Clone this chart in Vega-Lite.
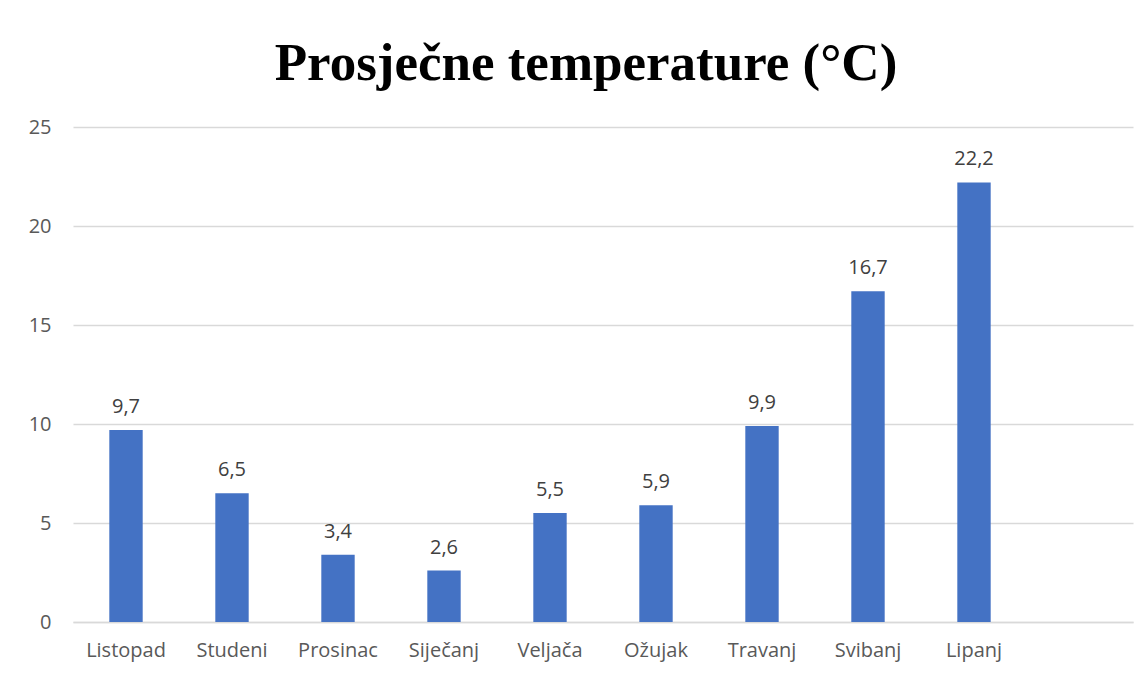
{
  "$schema": "https://vega.github.io/schema/vega-lite/v6.json",
  "width": 1060,
  "height": 495,
  "autosize": {"type": "none"},
  "padding": {"left": 73, "top": 127, "right": 14, "bottom": 55},
  "background": "white",
  "title": {
    "text": "Prosječne temperature (°C)",
    "font": "Liberation Serif",
    "fontSize": 53,
    "fontWeight": "bold",
    "color": "#000000",
    "anchor": "middle",
    "frame": "group",
    "baseline": "alphabetic",
    "offset": -16,
    "dx": -17
  },
  "data": {
    "values": [
      {"mjesec": "Listopad", "temp": 9.7},
      {"mjesec": "Studeni", "temp": 6.5},
      {"mjesec": "Prosinac", "temp": 3.4},
      {"mjesec": "Siječanj", "temp": 2.6},
      {"mjesec": "Veljača", "temp": 5.5},
      {"mjesec": "Ožujak", "temp": 5.9},
      {"mjesec": "Travanj", "temp": 9.9},
      {"mjesec": "Svibanj", "temp": 16.7},
      {"mjesec": "Lipanj", "temp": 22.2}
    ]
  },
  "encoding": {
    "x": {
      "field": "mjesec",
      "type": "nominal",
      "sort": null,
      "scale": {
        "domain": ["Listopad", "Studeni", "Prosinac", "Siječanj", "Veljača", "Ožujak", "Travanj", "Svibanj", "Lipanj", "_prazno"],
        "paddingInner": 0.685,
        "paddingOuter": 0.3425
      },
      "axis": {
        "title": null,
        "labelAngle": 0,
        "labelExpr": "datum.value == '_prazno' ? '' : datum.value",
        "labelFont": "Open Sans",
        "labelFontSize": 20,
        "labelColor": "#595959",
        "labelPadding": 18,
        "ticks": false,
        "domainColor": "#d9d9d9",
        "domainWidth": 1.5,
        "grid": false
      }
    },
    "y": {
      "field": "temp",
      "type": "quantitative",
      "scale": {"domain": [0, 25], "nice": false},
      "axis": {
        "title": null,
        "values": [0, 5, 10, 15, 20, 25],
        "labelFont": "Open Sans",
        "labelFontSize": 20,
        "labelColor": "#595959",
        "labelPadding": 22,
        "ticks": false,
        "domain": false,
        "gridColor": "#d9d9d9",
        "gridWidth": 1.3
      }
    }
  },
  "layer": [
    {"mark": {"type": "bar", "color": "#4472c4"}},
    {
      "mark": {
        "type": "text",
        "font": "Open Sans",
        "fontSize": 20,
        "color": "#404040",
        "baseline": "alphabetic",
        "dy": -17
      },
      "encoding": {
        "text": {"field": "temp", "type": "quantitative", "format": ".1f"}
      }
    }
  ],
  "config": {
    "locale": {
      "number": {"decimal": ",", "thousands": ".", "grouping": [3], "currency": ["", " €"]}
    },
    "view": {"stroke": null}
  }
}
